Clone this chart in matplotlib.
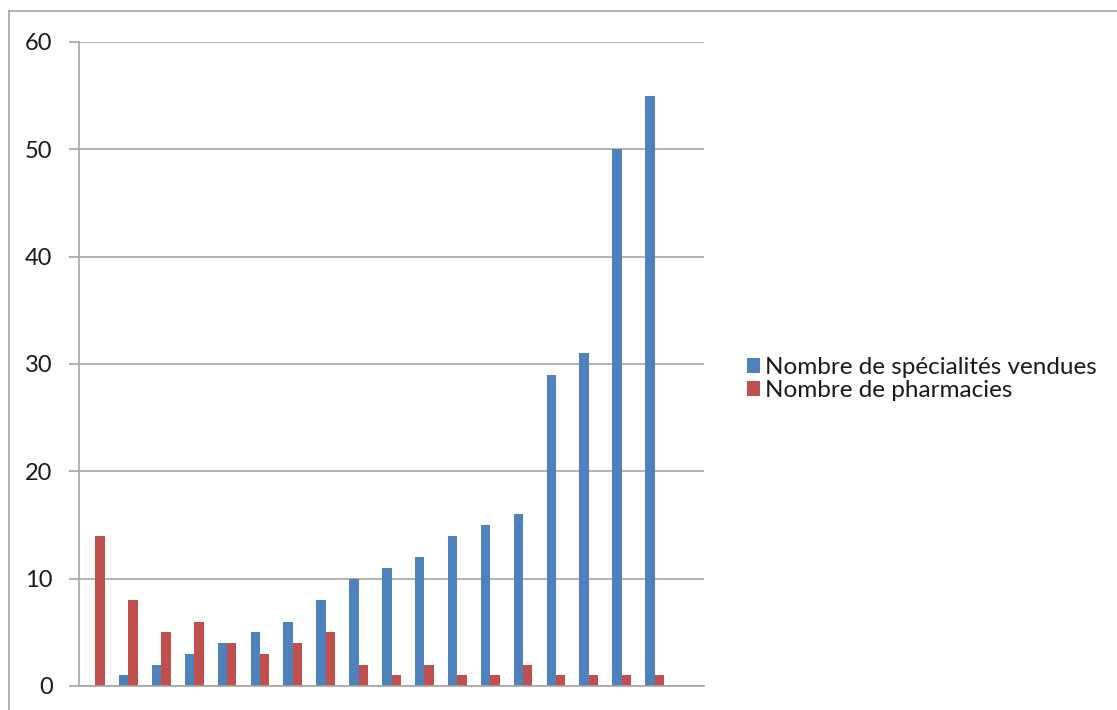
import matplotlib.pyplot as plt
from matplotlib.lines import Line2D
import numpy as np

specialites = [0, 1, 2, 3, 4, 5, 6, 8, 10, 11, 12, 14, 15, 16, 29, 31, 50, 55, 0]
pharmacies = [14, 8, 5, 6, 4, 3, 4, 5, 2, 1, 2, 1, 1, 2, 1, 1, 1, 1, 0]
labels = ["Nombre de spécialités vendues", "Nombre de pharmacies"]

BLUE = "#4F81BD"
RED = "#C0504D"
GRID = "#A6A6A6"

plt.rcParams['font.family'] = ['Lato', 'DejaVu Sans']

fig = plt.figure(figsize=(11.17, 7.10), dpi=100)
ax = fig.add_axes([79 / 1117, 24 / 710, 625 / 1117, 644 / 710])

x = np.arange(len(specialites))
w = 1 / 3.5
b1 = ax.bar(x - w / 2, specialites, w, color=BLUE, label=labels[0])
b2 = ax.bar(x + w / 2, pharmacies, w, color=RED, label=labels[1])

ax.set_xlim(-0.5, len(specialites) - 0.5)
ax.set_ylim(0, 60)
ax.set_yticks(range(0, 61, 10))
ax.set_xticks([])
ax.yaxis.grid(True, color=GRID, linewidth=1.2)
ax.set_axisbelow(True)
for s in ["top", "right"]:
    ax.spines[s].set_visible(False)
ax.spines["left"].set_color(GRID)
ax.spines["bottom"].set_color(GRID)
ax.spines["left"].set_linewidth(1.2)
ax.spines["bottom"].set_linewidth(1.2)
ax.tick_params(axis="y", length=7, color=GRID, width=1.2, pad=12,
               labelsize=17, labelcolor="#1a1a1a")

fig.legend(handles=[b1, b2], loc="center left",
           bbox_to_anchor=(747 / 1117, 1 - 379 / 710), frameon=False,
           fontsize=17.5, handlelength=0.55, handleheight=0.55,
           handletextpad=0.2, labelspacing=0.1, borderpad=0,
           borderaxespad=0, labelcolor="#1a1a1a")

# outer chart border
fig.add_artist(Line2D([9 / 1117, 1], [1 - 11 / 710, 1 - 11 / 710],
                      color=GRID, linewidth=1.2))
fig.add_artist(Line2D([9 / 1117, 9 / 1117], [0, 1 - 11 / 710],
                      color=GRID, linewidth=1.2))

plt.savefig("out.png", dpi=100)
plt.close()
